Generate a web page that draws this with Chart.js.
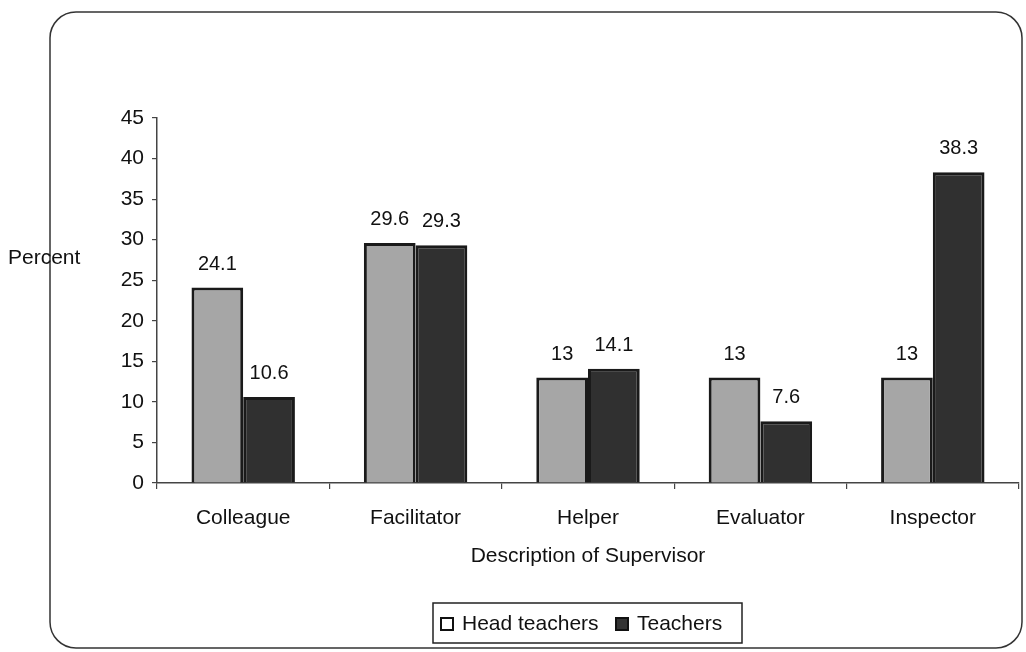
<!DOCTYPE html>
<html>
<head>
<meta charset="utf-8">
<script src="https://cdn.jsdelivr.net/npm/chart.js@4.4.1/dist/chart.umd.min.js"></script>
<style>
  html, body { margin: 0; padding: 0; background: #ffffff; }
  #wrap { position: relative; width: 1026px; height: 652px; }
</style>
</head>
<body>
<div id="wrap"><canvas id="grafico"></canvas></div>
<script>
const categorias = ["Colleague", "Facilitator", "Helper", "Evaluator", "Inspector"];
const headTeachers = [24.1, 29.6, 13, 13, 13];
const teachers = [10.6, 29.3, 14.1, 7.6, 38.3];
const ejeY = { min: 0, max: 45, step: 5 };
const etiquetaY = "Percent";
const tituloX = "Description of Supervisor";

const fuente = '"Liberation Sans", Arial, sans-serif';
const tinta = "#111111";

// marco redondeado, etiqueta "Percent", valores y leyenda
const decoracion = {
  id: "decoracion",
  beforeDraw(chart) {
    const ctx = chart.ctx;
    const x0 = 50, y0 = 12, x1 = 1022, y1 = 648, r = 26;
    ctx.save();
    ctx.fillStyle = "#ffffff";
    ctx.fillRect(0, 0, chart.width, chart.height);
    ctx.beginPath();
    ctx.moveTo(x0 + r, y0);
    ctx.arcTo(x1, y0, x1, y1, r);
    ctx.arcTo(x1, y1, x0, y1, r);
    ctx.arcTo(x0, y1, x0, y0, r);
    ctx.arcTo(x0, y0, x1, y0, r);
    ctx.closePath();
    ctx.lineWidth = 1.5;
    ctx.strokeStyle = "#333";
    ctx.stroke();
    ctx.restore();
  },
  afterDatasetsDraw(chart) {
    const ctx = chart.ctx;
    ctx.save();
    ctx.fillStyle = tinta;
    ctx.font = `20px ${fuente}`;
    ctx.textAlign = "center";
    ctx.textBaseline = "alphabetic";
    chart.data.datasets.forEach((ds, i) => {
      chart.getDatasetMeta(i).data.forEach((barra, j) => {
        ctx.fillText(String(ds.data[j]), barra.x, barra.y - 18);
      });
    });

    ctx.font = `21px ${fuente}`;
    ctx.textAlign = "left";
    ctx.textBaseline = "middle";
    ctx.fillText(etiquetaY, 8, 258);

    // leyenda
    const lx0 = 433, ly0 = 603, lx1 = 742, ly1 = 643;
    ctx.fillStyle = "#ffffff";
    ctx.fillRect(lx0, ly0, lx1 - lx0, ly1 - ly0);
    ctx.lineWidth = 1.5;
    ctx.strokeStyle = "#222";
    ctx.strokeRect(lx0, ly0, lx1 - lx0, ly1 - ly0);
    const items = [
      { x: 441, relleno: "#ffffff", texto: chart.data.datasets[0].label },
      { x: 616, relleno: "#333333", texto: chart.data.datasets[1].label }
    ];
    ctx.font = `21px ${fuente}`;
    const cy = 624;
    items.forEach(it => {
      ctx.fillStyle = it.relleno;
      ctx.fillRect(it.x, cy - 6, 12, 12);
      ctx.strokeStyle = "#111";
      ctx.lineWidth = 2;
      ctx.strokeRect(it.x, cy - 6, 12, 12);
      ctx.fillStyle = tinta;
      ctx.fillText(it.texto, it.x + 21, cy);
    });
    ctx.restore();
  }
};

new Chart(document.getElementById("grafico"), {
  type: "bar",
  data: {
    labels: categorias,
    datasets: [
      {
        label: "Head teachers",
        data: headTeachers,
        backgroundColor: "#a6a6a6",
        borderColor: "#1a1a1a",
        borderWidth: 3,
        categoryPercentage: 0.6,
        barPercentage: 1.0
      },
      {
        label: "Teachers",
        data: teachers,
        backgroundColor: "#303030",
        borderColor: "#1a1a1a",
        borderWidth: 3,
        categoryPercentage: 0.6,
        barPercentage: 1.0
      }
    ]
  },
  options: {
    responsive: true,
    maintainAspectRatio: false,
    animation: false,
    layout: { padding: { top: 118, left: 0, right: 7, bottom: 79 } },
    plugins: {
      legend: { display: false },
      tooltip: { enabled: false }
    },
    scales: {
      x: {
        grid: { drawOnChartArea: false, drawTicks: true, tickLength: 6, color: "#444", lineWidth: 1.2 },
        border: { display: true, color: "#444", width: 1.5 },
        ticks: { color: tinta, font: { family: fuente, size: 21 }, padding: 17, maxRotation: 0 },
        title: { display: true, text: tituloX, color: tinta, font: { family: fuente, size: 21 } },
        afterFit(scale) { scale.height = 90; }
      },
      y: {
        min: ejeY.min,
        max: ejeY.max,
        grid: { drawOnChartArea: false, drawTicks: true, tickLength: 5, color: "#444", lineWidth: 1.2 },
        border: { display: true, color: "#444", width: 1.5 },
        ticks: { stepSize: ejeY.step, color: tinta, font: { family: fuente, size: 21 }, padding: 8 },
        afterFit(scale) { scale.width = 157; }
      }
    }
  },
  plugins: [decoracion]
});
</script>
</body>
</html>
